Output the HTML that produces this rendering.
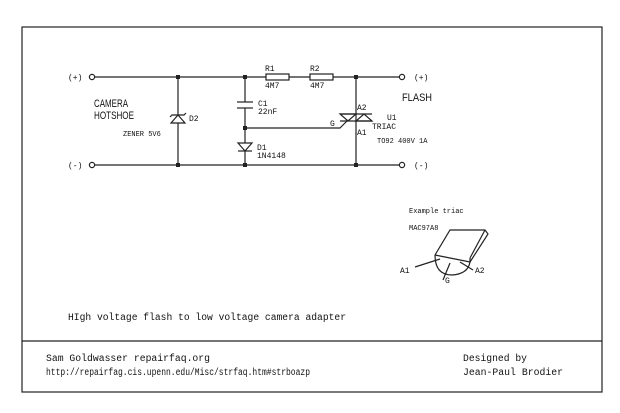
<!DOCTYPE html>
<html><head><meta charset="utf-8"><style>
html,body{margin:0;padding:0;background:#fff;}
svg{display:block;}
text{font-family:"Liberation Mono",monospace;fill:#111;}
</style></head><body>
<svg width="620" height="413" viewBox="0 0 620 413" xmlns="http://www.w3.org/2000/svg">
<rect x="0" y="0" width="620" height="413" fill="#fff"/>
<g stroke="#222" fill="none" stroke-width="1.2">
<rect x="22" y="27" width="580" height="365"/>
<line x1="22" y1="341" x2="602" y2="341"/>
<!-- rails -->
<line x1="95" y1="77" x2="266" y2="77"/>
<line x1="289" y1="77" x2="310" y2="77"/>
<line x1="333" y1="77" x2="399" y2="77"/>
<line x1="95" y1="165" x2="399" y2="165"/>
<circle cx="92" cy="77" r="2.6"/><circle cx="92" cy="165" r="2.6"/>
<circle cx="402" cy="77" r="2.6"/><circle cx="402" cy="165" r="2.6"/>
<!-- resistors -->
<rect x="266" y="74" width="23" height="6"/>
<rect x="310" y="74" width="23" height="6"/>
<!-- zener column -->
<line x1="178" y1="77" x2="178" y2="165"/>
<polygon points="171,123 185,123 178,115" fill="#fff"/>
<polyline points="170,117 172,115 184,115 186,113"/>
<!-- C1/D1 column -->
<line x1="245" y1="77" x2="245" y2="102"/>
<line x1="237" y1="102" x2="253" y2="102"/>
<line x1="237" y1="108" x2="253" y2="108"/>
<line x1="245" y1="108" x2="245" y2="165"/>
<polygon points="238,143 252,143 245,151" fill="#fff"/>
<line x1="238" y1="151" x2="252" y2="151"/>
<!-- gate line -->
<polyline points="245,128 340,128 348,120"/>
<!-- triac column -->
<line x1="356" y1="77" x2="356" y2="165"/>
<line x1="340" y1="114" x2="372" y2="114"/>
<line x1="340" y1="121" x2="372" y2="121"/>
<polygon points="340,114 356,114 348,121"/>
<polygon points="356,121 372,121 364,114"/>
<!-- example triac body -->
<polyline points="435,255 450,230 485,230 488,234 470,262"/>
<line x1="485" y1="230" x2="470" y2="258"/>
<polyline points="435,255 470,262 470,258"/>
<path d="M435,255 Q435,275 452,275 Q468,274 470,262"/>
<line x1="415" y1="267" x2="440" y2="259"/>
<line x1="450" y1="263" x2="443" y2="280"/>
<line x1="460" y1="262" x2="473" y2="270"/>
</g>
<g fill="#222">
<rect x="176" y="75" width="4" height="4"/><rect x="176" y="163" width="4" height="4"/>
<rect x="243" y="75" width="4" height="4"/><rect x="243" y="163" width="4" height="4"/>
<rect x="243" y="126" width="4" height="4"/>
<rect x="354" y="75" width="4" height="4"/><rect x="354" y="163" width="4" height="4"/>
</g>
<g font-size="8">
<text x="68" y="80">(+)</text><text x="68" y="168">(-)</text>
<text x="414" y="80">(+)</text><text x="414" y="168">(-)</text>
<text x="265" y="71">R1</text><text x="310" y="71">R2</text>
<text x="265" y="88">4M7</text><text x="310" y="88">4M7</text>
<text x="258" y="106">C1</text><text x="258" y="114">22nF</text>
<text x="257" y="150">D1</text><text x="257" y="158">1N4148</text>
<text x="189" y="121">D2</text>
<text x="123" y="136" font-size="7">ZENER 5V6</text>
<text x="357" y="110">A2</text><text x="357" y="135">A1</text>
<text x="330" y="126">G</text>
<text x="387" y="120">U1</text><text x="372" y="129">TRIAC</text>
<text x="377" y="143" font-size="7">TO92 400V 1A</text>
<text x="409" y="213" font-size="7">Example triac</text>
<text x="409" y="230" font-size="7">MAC97A8</text>
<text x="400" y="273">A1</text><text x="475" y="273">A2</text><text x="445" y="283">G</text>
</g>
<g font-size="11" font-family="Liberation Sans Narrow, Liberation Sans, sans-serif">
<text x="94" y="107" style="font-family:'Liberation Sans',sans-serif" textLength="34" lengthAdjust="spacingAndGlyphs">CAMERA</text>
<text x="94" y="119" style="font-family:'Liberation Sans',sans-serif" textLength="40" lengthAdjust="spacingAndGlyphs">HOTSHOE</text>
<text x="402" y="101" style="font-family:'Liberation Sans',sans-serif" textLength="30" lengthAdjust="spacingAndGlyphs">FLASH</text>
</g>
<g font-size="10">
<text x="68" y="320" textLength="278" lengthAdjust="spacingAndGlyphs">HIgh voltage flash to low voltage camera adapter</text>
<text x="46" y="361" textLength="164" lengthAdjust="spacingAndGlyphs">Sam Goldwasser repairfaq.org</text>
<text x="46" y="375" textLength="264" lengthAdjust="spacingAndGlyphs">http://repairfag.cis.upenn.edu/Misc/strfaq.htm#strboazp</text>
<text x="463" y="361" textLength="64" lengthAdjust="spacingAndGlyphs">Designed by</text>
<text x="463" y="375" textLength="100" lengthAdjust="spacingAndGlyphs">Jean-Paul Brodier</text>
</g>
</svg>
</body></html>
